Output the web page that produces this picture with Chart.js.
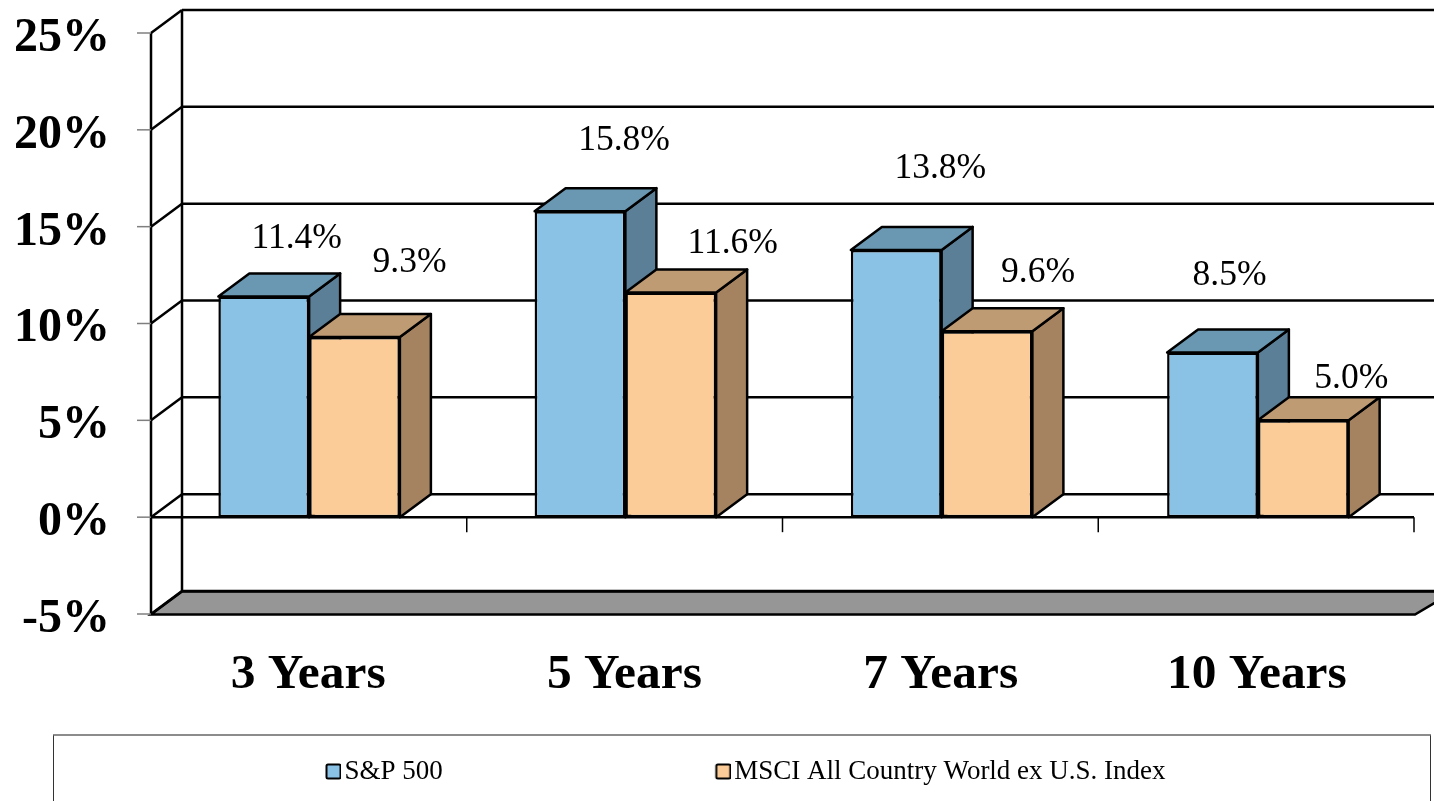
<!DOCTYPE html>
<html>
<head>
<meta charset="utf-8">
<style>html,body{margin:0;padding:0;background:#fff;overflow:hidden}canvas{display:block}</style>
<script src="https://cdn.jsdelivr.net/npm/chart.js@4"></script>
</head>
<body>
<canvas id="c" width="1434" height="801"></canvas>
<script>
const categories = ['3 Years', '5 Years', '7 Years', '10 Years'];
const sp500 = [11.4, 15.8, 13.8, 8.5];
const msci = [9.3, 11.6, 9.6, 5.0];
const seriesNames = ['S&P 500', 'MSCI All Country World ex U.S. Index'];
const yMin = -5, yMax = 25, yStep = 5;

// label placement relative to each bar's centre-top
const labelOffsets = [
  [[33, -58], [44, -71], [44, -81], [17, -77]],
  [[55, -74], [62, -49], [51, -59], [48, -42]]
];
const DX = 31, DY = -23, TICK_PITCH = 315.75;
const serif = "'Liberation Serif'";
const faces = [
  {front: '#8AC2E6', top: '#6A98B2', side: '#5B7F97'},
  {front: '#FCCC98', top: '#BF9B74', side: '#A58361'}
];

const LEG_B = 254, LEG_PAD = 24;
function swatch(color) {
  const cv = document.createElement('canvas');
  cv.width = LEG_B + 20; cv.height = 17;
  const g = cv.getContext('2d');
  const x = LEG_B + 4.5;
  g.fillStyle = color; g.strokeStyle = '#000'; g.lineWidth = 2;
  g.beginPath(); g.roundRect(x + 1, 1.5, 14, 14, 1.5); g.fill(); g.stroke();
  return cv;
}

function poly(ctx, pts, fill) {
  ctx.beginPath();
  pts.forEach((p, i) => i ? ctx.lineTo(p[0], p[1]) : ctx.moveTo(p[0], p[1]));
  ctx.closePath();
  if (fill) { ctx.fillStyle = fill; ctx.fill(); }
  ctx.stroke();
}
function seg(ctx, x1, y1, x2, y2) {
  ctx.beginPath(); ctx.moveTo(x1, y1); ctx.lineTo(x2, y2); ctx.stroke();
}

const wall3d = {
  id: 'wall3d',
  afterLayout(chart) {
    const lg = chart.legend;
    lg.left = 53; lg.right = 1430;
    lg.top -= 6; lg.bottom -= 6;
  },
  beforeDatasetsDraw(chart) {
    const {ctx, scales: {y}, chartArea: a, width} = chart;
    const endX = a.left + TICK_PITCH * categories.length;
    ctx.save();
    ctx.lineCap = 'butt';
    ctx.strokeStyle = '#000'; ctx.lineWidth = 2.5;
    // floor
    const by = y.getPixelForValue(yMin) + 0.5;
    poly(ctx, [[a.left, by], [a.left + DX, by + DY], [width + 20, by + DY], [endX + 1, by]], '#969696');
    // back wall gridlines and left wall diagonals
    for (let v = yMin; v <= yMax; v += yStep) {
      const p = y.getPixelForValue(v);
      seg(ctx, a.left, p, a.left + DX, p + DY);
      seg(ctx, a.left + DX, p + DY, width + 20, p + DY);
    }
    // vertical edges
    seg(ctx, a.left, y.getPixelForValue(yMax), a.left, by);
    seg(ctx, a.left + DX, y.getPixelForValue(yMax) + DY, a.left + DX, by + DY);
    // left ticks
    ctx.strokeStyle = '#7f7f7f'; ctx.lineWidth = 1.5;
    for (let v = yMin; v <= yMax; v += yStep) {
      const p = y.getPixelForValue(v);
      seg(ctx, a.left - 14, p, a.left, p);
    }
    // zero line and category ticks
    ctx.strokeStyle = '#000'; ctx.lineWidth = 2.5;
    const z = y.getPixelForValue(0);
    seg(ctx, a.left, z, endX, z);
    ctx.lineWidth = 1.5;
    categories.forEach((c, i) => {
      const t = a.left + TICK_PITCH * (i + 1);
      seg(ctx, t, z, t, z + 15);
    });
    // bar depth faces
    ctx.lineWidth = 2.5; ctx.lineJoin = 'round';
    for (let i = 0; i < categories.length; i++) {
      chart.data.datasets.forEach((ds, d) => {
        const b = chart.getDatasetMeta(d).data[i];
        const l = b.x - b.width / 2, r = b.x + b.width / 2, t = b.y, g = b.base;
        poly(ctx, [[r, t], [r + DX, t + DY], [r + DX, g + DY], [r, g]], faces[d].side);
        poly(ctx, [[l, t], [l + DX, t + DY], [r + DX, t + DY], [r, t]], faces[d].top);
      });
    }
    ctx.restore();
  },
  afterDatasetsDraw(chart) {
    const {ctx} = chart;
    ctx.save();
    ctx.fillStyle = '#000';
    ctx.font = '35.5px ' + serif;
    ctx.textAlign = 'center'; ctx.textBaseline = 'middle';
    chart.data.datasets.forEach((ds, d) => {
      chart.getDatasetMeta(d).data.forEach((b, i) => {
        const o = labelOffsets[d][i];
        ctx.fillText(ds.data[i].toFixed(1) + '%', b.x + o[0], b.y + o[1]);
      });
    });
    ctx.restore();
  },
  afterDraw(chart) {
    const {ctx} = chart;
    ctx.save();
    ctx.lineWidth = 1;
    ctx.strokeStyle = '#333';
    seg(ctx, 53.5, 735, 53.5, 801);
    seg(ctx, 1430.5, 735, 1430.5, 801);
    ctx.strokeStyle = '#666'; ctx.lineWidth = 1.5;
    seg(ctx, 53, 735, 1431, 735);
    ctx.restore();
  }
};

new Chart(document.getElementById('c'), {
  type: 'bar',
  data: {
    labels: categories,
    datasets: [
      {label: seriesNames[0], data: sp500, backgroundColor: faces[0].front, borderColor: '#000', borderWidth: 2.5, borderSkipped: false},
      {label: seriesNames[1], data: msci, backgroundColor: faces[1].front, borderColor: '#000', borderWidth: 2.5, borderSkipped: false}
    ]
  },
  options: {
    responsive: false,
    animation: false,
    devicePixelRatio: 1,
    layout: {padding: {top: 33, right: 18, left: 0, bottom: 0}},
    datasets: {bar: {barPercentage: 1, categoryPercentage: 0.574}},
    scales: {
      x: {
        grid: {display: false, drawTicks: false},
        border: {display: false},
        ticks: {color: '#000', font: {family: serif, size: 49.4, weight: 'bold'}, padding: 31.5, labelOffset: -1, maxRotation: 0, autoSkip: false},
        afterFit(s) { s.height = 801 - 614 - s.chart.legend.height; s.paddingLeft = 0; s.paddingRight = 0; }
      },
      y: {
        min: yMin, max: yMax,
        grid: {display: false, drawTicks: false},
        border: {display: false},
        ticks: {stepSize: yStep, color: '#000', padding: 41, labelOffset: 5.5, font: {family: serif, size: 48, weight: 'bold'}, callback: v => v + '%'},
        afterFit(s) { s.width = 151; s.paddingTop = 0; s.paddingBottom = 0; }
      }
    },
    plugins: {
      tooltip: {enabled: false},
      title: {display: false},
      legend: {
        display: true,
        position: 'bottom',
        align: 'start',
        labels: {
          usePointStyle: true,
          pointStyleWidth: LEG_B,
          padding: LEG_PAD,
          color: '#000',
          font: {family: serif, size: 27},
          generateLabels(chart) {
            return chart.data.datasets.map((ds, i) => ({
              text: ds.label,
              fontColor: '#000',
              fillStyle: ds.backgroundColor,
              strokeStyle: '#000',
              lineWidth: 2,
              pointStyle: swatch(ds.backgroundColor),
              hidden: false,
              datasetIndex: i
            }));
          }
        }
      }
    }
  },
  plugins: [wall3d]
});
</script>
</body>
</html>
